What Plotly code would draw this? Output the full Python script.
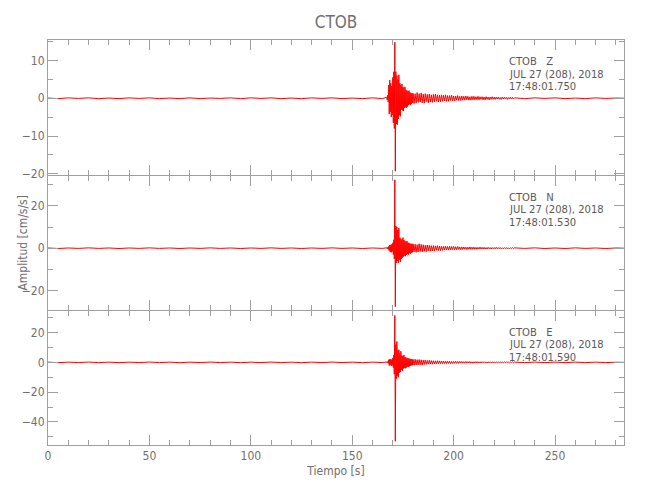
import plotly.graph_objects as go
from plotly.subplots import make_subplots

# ---------------- data ----------------
STATION = "CTOB"
COMPONENTS = ["Z", "N", "E"]
DATE_LABEL = "JUL 27 (208), 2018"
START_TIMES = ["17:48:01.750", "17:48:01.530", "17:48:01.590"]

# sampling of the trace segments (seconds)
PRE_START, PRE_STEP = 0.0, 5.0       # quiet part before the event
A_START, A_STEP = 167.0, 0.25        # strong motion
B_START, B_STEP = 180.0, 0.5         # coda
POST_START, POST_STEP = 230.0, 5.0   # tail
T_END = 284.0

Z_pre = [0.05, -0.1, 0.1, -0.05, 0.1, -0.1, 0.05, -0.1, 0.1, -0.05,
         0.1, -0.1, 0.05, -0.1, 0.1, -0.1, 0.05, -0.05, 0.1, -0.1,
         0.1, -0.05, 0.1, -0.1, 0.05, -0.1, 0.1, -0.05, 0.1, -0.1,
         0.05, -0.1, 0.1, -0.1]
Z_a = [0.3, -0.4, 0.8, -1.0,
       3.5, -4.2, 4.8, -3.6,
       4.0, -5.0, 3.2, -4.4,
       5.5, -6.5, 7.0, -8.0,
       14.8, -19.3, 7.0, -6.8,
       6.0, -7.0, 5.0, -5.5,
       6.2, -4.5, 4.0, -4.8,
       3.5, -3.0, 3.8, -3.2,
       3.0, -3.4, 2.8, -2.6,
       3.0, -2.4, 2.2, -2.5,
       2.0, -2.2, 1.9, -1.8,
       2.0, -1.6, 1.5, -1.7,
       1.4, -1.5, 1.3, -1.2]
Z_b = [1.3, -1.4, 1.2, -1.3, 1.5, -1.1, 1.2, -1.0, 1.4, -1.2,
       1.1, -1.3, 1.2, -0.9, 1.0, -1.2, 1.1, -1.0, 0.9, -1.1,
       1.0, -0.9, 1.1, -0.8, 0.9, -1.0, 0.8, -0.9, 0.9, -0.8,
       0.8, -0.7, 0.9, -0.8, 0.7, -0.8, 0.7, -0.6, 0.8, -0.7,
       0.6, -0.7, 0.6, -0.5, 0.7, -0.6, 0.5, -0.6, 0.6, -0.5,
       0.5, -0.5, 0.6, -0.4, 0.5, -0.5, 0.4, -0.5, 0.5, -0.4,
       0.5, -0.4, 0.4, -0.4, 0.5, -0.4, 0.4, -0.3, 0.4, -0.4,
       0.3, -0.4, 0.4, -0.3, 0.3, -0.4, 0.3, -0.3, 0.4, -0.3,
       0.3, -0.3, 0.3, -0.2, 0.3, -0.3, 0.2, -0.3, 0.3, -0.2,
       0.3, -0.2, 0.2, -0.3, 0.2, -0.2, 0.3, -0.2, 0.2, -0.2]
Z_post = [0.1, -0.1, 0.1, -0.05, 0.1, -0.1, 0.05, -0.1, 0.1, -0.05, 0.05, 0.0]

N_pre = [0.1, -0.15, 0.1, -0.1, 0.15, -0.1, 0.1, -0.15, 0.1, -0.1,
         0.15, -0.1, 0.1, -0.15, 0.1, -0.1, 0.15, -0.1, 0.1, -0.15,
         0.1, -0.1, 0.15, -0.1, 0.1, -0.15, 0.1, -0.1, 0.15, -0.1,
         0.1, -0.15, 0.1, -0.1]
N_a = [0.2, -0.3, 0.4, -0.5,
       0.8, -1.2, 1.5, -1.8,
       1.6, -2.0, 1.8, -1.5,
       2.5, -3.0, 4.0, -5.0,
       32.3, -27.6, 10.5, -6.9,
       10.0, -6.0, 8.5, -7.0,
       9.5, -5.5, 5.0, -6.5,
       4.5, -5.0, 4.0, -4.5,
       5.0, -4.0, 3.8, -3.5,
       3.5, -3.8, 3.0, -3.2,
       3.4, -2.8, 2.6, -3.0,
       2.5, -2.4, 2.2, -2.6,
       2.0, -2.2, 2.1, -1.9]
N_b = [2.0, -1.8, 1.9, -2.0, 1.7, -1.8, 2.1, -1.6, 1.8, -1.7,
       1.6, -1.5, 1.4, -1.6, 1.5, -1.3, 1.4, -1.4, 1.2, -1.3,
       1.2, -1.3, 1.1, -1.0, 1.2, -1.1, 1.0, -1.1, 0.9, -1.0,
       0.9, -0.9, 1.0, -0.8, 0.8, -0.9, 0.9, -0.8, 0.8, -0.7,
       0.8, -0.7, 0.7, -0.7, 0.8, -0.6, 0.6, -0.7, 0.6, -0.6,
       0.6, -0.5, 0.5, -0.6, 0.5, -0.5, 0.6, -0.5, 0.5, -0.5,
       0.5, -0.5, 0.4, -0.5, 0.4, -0.4, 0.5, -0.4, 0.4, -0.4,
       0.4, -0.4, 0.3, -0.4, 0.4, -0.3, 0.3, -0.4, 0.3, -0.3,
       0.3, -0.3, 0.4, -0.3, 0.3, -0.3, 0.3, -0.3, 0.2, -0.3,
       0.3, -0.2, 0.3, -0.3, 0.2, -0.3, 0.2, -0.2, 0.3, -0.2]
N_post = [0.15, -0.1, 0.15, -0.15, 0.1, -0.15, 0.15, -0.1, 0.1, -0.15, 0.1, 0.0]

E_pre = [0.15, -0.2, 0.15, -0.15, 0.2, -0.15, 0.15, -0.2, 0.15, -0.15,
         0.2, -0.15, 0.15, -0.2, 0.15, -0.15, 0.2, -0.15, 0.15, -0.2,
         0.15, -0.15, 0.2, -0.15, 0.15, -0.2, 0.15, -0.15, 0.2, -0.15,
         0.15, -0.2, 0.15, -0.15]
E_a = [0.3, -0.4, 0.5, -0.6,
       1.8, -2.2, 2.0, -1.6,
       2.2, -2.4, 1.8, -2.0,
       3.0, -3.5, 5.0, -8.0,
       31.5, -53.0, 12.0, -11.0,
       14.0, -9.0, 8.0, -10.0,
       8.5, -7.0, 6.0, -6.5,
       7.5, -5.0, 4.5, -5.5,
       4.4, -4.2, 5.0, -3.8,
       3.6, -4.0, 3.2, -3.4,
       3.0, -2.8, 2.8, -3.0,
       2.5, -2.6, 2.4, -2.2,
       2.2, -2.0, 2.1, -1.9]
E_b = [2.0, -1.9, 2.1, -1.8, 1.8, -1.7, 1.9, -1.6, 1.7, -1.8,
       1.5, -1.4, 1.6, -1.3, 1.3, -1.2, 1.4, -1.1, 1.2, -1.2,
       1.1, -1.1, 1.0, -1.0, 1.1, -0.9, 1.0, -0.9, 0.9, -0.9,
       0.9, -0.8, 0.8, -0.8, 0.9, -0.7, 0.7, -0.8, 0.7, -0.7,
       0.7, -0.6, 0.7, -0.6, 0.6, -0.6, 0.6, -0.5, 0.6, -0.5,
       0.5, -0.5, 0.6, -0.5, 0.5, -0.4, 0.5, -0.5, 0.4, -0.5,
       0.4, -0.4, 0.5, -0.4, 0.4, -0.4, 0.4, -0.4, 0.4, -0.3,
       0.4, -0.3, 0.3, -0.4, 0.3, -0.3, 0.4, -0.3, 0.3, -0.3,
       0.3, -0.3, 0.3, -0.3, 0.3, -0.2, 0.3, -0.3, 0.2, -0.3,
       0.3, -0.2, 0.3, -0.2, 0.2, -0.3, 0.2, -0.2, 0.3, -0.2]
E_post = [0.15, -0.15, 0.15, -0.15, 0.15, -0.15, 0.15, -0.15, 0.15, -0.15, 0.1, 0.0]

TRACES = {"Z": (Z_pre, Z_a, Z_b, Z_post),
          "N": (N_pre, N_a, N_b, N_post),
          "E": (E_pre, E_a, E_b, E_post)}

Y_RANGES = [[-20.3, 15.4], [-29.2, 34.1], [-55.5, 34.5]]
Y_DTICK = [10, 20, 20]
Y_MINOR = [5, 10, 10]

# ---------------- figure ----------------
GRAY = "#a0a0a0"
TXT = "#707070"
FONT = "Liberation Sans Narrow, DejaVu Sans Condensed, Arial Narrow, sans-serif"
NOTE_FONT = "DejaVu Sans, sans-serif"

PLOT_H = 405.0
GAP = 1.0 / PLOT_H
DOMAINS = [[2 / 3, 1.0], [1 / 3, 2 / 3 - GAP], [0.0, 1 / 3 - GAP]]


def seg_times(start, step, n):
    return [start + step * i for i in range(n)]


fig = make_subplots(rows=3, cols=1, shared_xaxes=True, vertical_spacing=0)

for r, comp in enumerate(COMPONENTS, start=1):
    pre, a, b, post = TRACES[comp]
    t = (seg_times(PRE_START, PRE_STEP, len(pre)) +
         seg_times(A_START, A_STEP, len(a)) +
         seg_times(B_START, B_STEP, len(b)) +
         seg_times(POST_START, POST_STEP, len(post) - 1) + [T_END])
    y = list(pre) + list(a) + list(b) + list(post)
    fig.add_trace(go.Scatter(x=t, y=y, mode="lines",
                             line=dict(color="#ff0000", width=1),
                             showlegend=False, hoverinfo="skip"),
                  row=r, col=1)

    fig.update_yaxes(row=r, col=1, domain=DOMAINS[r - 1],
                     range=Y_RANGES[r - 1], dtick=Y_DTICK[r - 1],
                     tick0=0, showgrid=False, zeroline=False, showline=True,
                     linecolor=GRAY, linewidth=1, mirror="ticks",
                     ticks="inside", ticklen=10, tickcolor=GRAY, tickwidth=1,
                     minor=dict(dtick=Y_MINOR[r - 1], tick0=0, ticks="inside",
                                ticklen=5, tickcolor=GRAY, tickwidth=1,
                                showgrid=False),
                     tickfont=dict(family=FONT, size=12, color=TXT))

    fig.update_xaxes(row=r, col=1, range=[0, T_END], dtick=50, tick0=0,
                     showgrid=False, zeroline=False, showline=True,
                     linecolor=GRAY, linewidth=1, mirror="ticks",
                     ticks="inside", ticklen=10, tickcolor=GRAY, tickwidth=1,
                     minor=dict(dtick=10, tick0=0, ticks="inside", ticklen=5,
                                tickcolor=GRAY, tickwidth=1, showgrid=False),
                     tickfont=dict(family=FONT, size=12, color=TXT))

fig.update_xaxes(row=3, col=1,
                 title=dict(text="Tiempo [s]", standoff=4,
                            font=dict(family=FONT, size=12, color=TXT)))

NB = "\u00a0"
yrefs = ["y domain", "y2 domain", "y3 domain"]
for i, comp in enumerate(COMPONENTS):
    lines = [f"{STATION}{NB*3}{comp}", DATE_LABEL, START_TIMES[i]]
    for k, txt in enumerate(lines):
        fig.add_annotation(text=txt, xref="paper", yref=yrefs[i],
                           x=0.797, y=0.841 - k * 0.0935,
                           xanchor="left", yanchor="middle", showarrow=False,
                           font=dict(family=NOTE_FONT, size=10, color="#5a5a5a"))

fig.add_annotation(text="Amplitud [cm/s/s]", xref="paper", yref="paper",
                   x=-0.045, y=0.5, textangle=-90, showarrow=False,
                   xanchor="center", yanchor="middle",
                   font=dict(family=FONT, size=12, color=TXT))

# the page body adds an 8 px offset, so the figure is 8 px smaller
fig.update_layout(
    width=642, height=492,
    margin=dict(l=40, r=26, t=32, b=55),
    paper_bgcolor="white", plot_bgcolor="white",
    title=dict(text=STATION, x=0.5, xref="paper", y=0.9715, yanchor="middle",
               font=dict(family=FONT, size=17, color=TXT)),
)

fig.write_html("out.html")
